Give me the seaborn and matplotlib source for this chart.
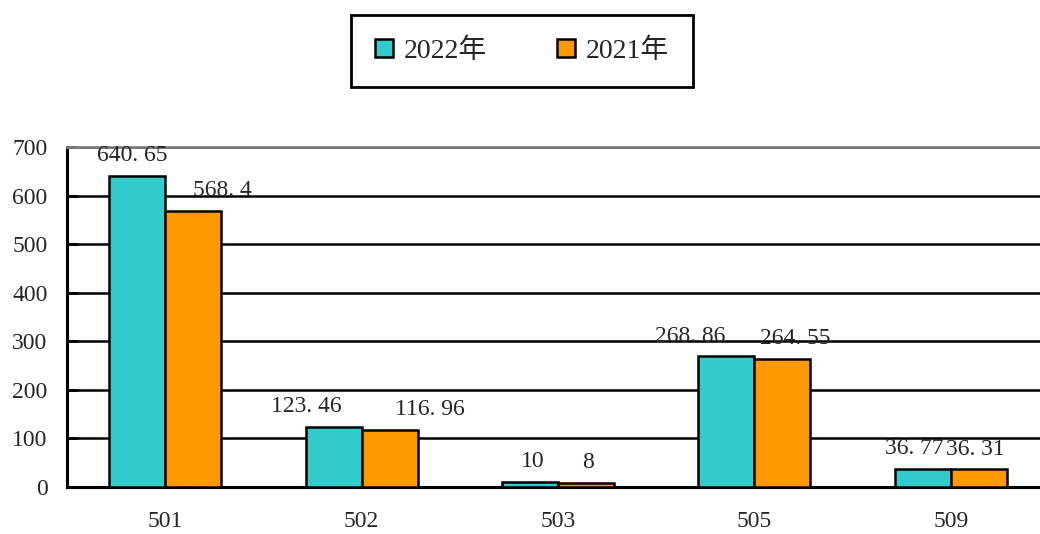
import numpy as np
import pandas as pd
import matplotlib
matplotlib.use("Agg")
import matplotlib.pyplot as plt
import seaborn as sns

# DATA
categories = ["501", "502", "503", "505", "509"]
years = ["2022年", "2021年"]
values_2022 = [640.65, 123.46, 10, 268.86, 36.77]
values_2021 = [568.4, 116.96, 8, 264.55, 36.31]
colors = ["#33CCCC", "#FF9900"]

# label nudges in pixels (labels in the original were moved by hand)
label_dx = [[-5, -27, 3, -36, -9], [29, 40, 2, 13, -3]]

df = pd.DataFrame({
    "cat": categories * 2,
    "year": [years[0]] * 5 + [years[1]] * 5,
    "value": values_2022 + values_2021,
})

sns.set_style("white")
plt.rcParams["font.family"] = ["Liberation Serif", "Noto Sans CJK SC"]

fig = plt.figure(figsize=(10.4, 5.34), dpi=100)
ax = fig.add_axes([67 / 1040, 1 - 487 / 534, 982 / 1040, 340 / 534])

sns.barplot(data=df, x="cat", y="value", hue="year", order=categories,
            hue_order=years, palette=dict(zip(years, colors)), width=0.57,
            edgecolor="black", linewidth=1.8, saturation=1, ax=ax, zorder=3)

ax.set_xlim(-0.5, 4.5)
ax.set_ylim(0, 700)
ax.set_yticks(range(0, 701, 100))
ax.yaxis.grid(True, color="black", linewidth=1.8)
ax.set_axisbelow(True)

for s in ["left", "bottom"]:
    ax.spines[s].set_color("black")
    ax.spines[s].set_linewidth(2.2)
ax.spines["right"].set_visible(False)
ax.spines["top"].set_color("#808080")
ax.spines["top"].set_linewidth(2)

ax.set_xticks(np.arange(0.5, 4, 1), minor=True)
ax.tick_params(axis="x", which="major", length=0, pad=17, labelsize=17)
ax.tick_params(axis="x", which="minor", direction="in", length=8, width=2, color="black")
ax.tick_params(axis="y", direction="in", length=8, width=2, color="black", pad=14,
               labelsize=17, left=True)
ax.set_xlabel("")
ax.set_ylabel("")

# value labels
for i, cont in enumerate(ax.containers):
    for j, bar in enumerate(cont):
        v = bar.get_height()
        txt = f"{v:g}".replace(".", ". ")
        ax.annotate(txt, (bar.get_x() + bar.get_width() / 2, v),
                    xytext=(label_dx[i][j] * 0.72, 7), textcoords="offset points",
                    ha="center", va="bottom", fontsize=17, zorder=5)

handles, labels = ax.get_legend_handles_labels()
ax.get_legend().remove()
leg = fig.legend(handles, labels, loc="center", bbox_to_anchor=(522 / 1040, 1 - 51 / 534),
                 ncol=2, fontsize=20, frameon=True, fancybox=False, edgecolor="black",
                 framealpha=1, handlelength=0.65, handleheight=0.65, handletextpad=0.4,
                 columnspacing=2.5, borderpad=0.85)
leg.get_frame().set_linewidth(2)

plt.savefig("out.png", dpi=100)
